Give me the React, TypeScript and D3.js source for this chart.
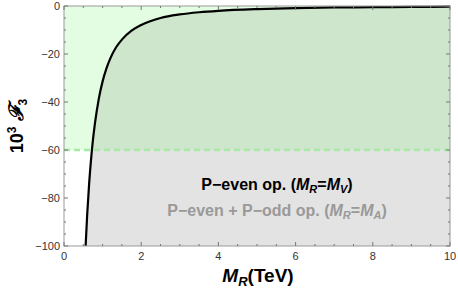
import * as d3 from 'd3';

// values
const massTeV = [0.56, 0.6, 0.65, 0.7, 0.75, 0.8, 0.9, 1.0, 1.1, 1.2, 1.35, 1.5, 1.75, 2.0, 2.5, 3.0, 3.5, 4.0, 5.0, 6.0, 7.0, 8.0, 9.0, 10.0];
const f3Values = [-100, -87.2, -74.3, -64.1, -55.8, -49.1, -38.8, -31.4, -26.0, -21.8, -17.2, -14.0, -10.3, -7.9, -5.0, -3.5, -2.6, -2.0, -1.3, -0.9, -0.6, -0.5, -0.4, -0.3];
const xTicks = [0, 2, 4, 6, 8, 10];
const yTicks = [0, -20, -40, -60, -80, -100];
const bound = -60;

const W = 458;
const H = 294;
const margin = { top: 6, right: 8, bottom: 48, left: 64 };

export default function App() {
  const x = d3.scaleLinear().domain([0, 10]).range([margin.left, W - margin.right]);
  const y = d3.scaleLinear().domain([-100, 0]).range([H - margin.bottom, margin.top]);
  const data = massTeV.map((m, i) => ({ m, v: f3Values[i] }));

  const line = d3.line<{ m: number; v: number }>()
    .x((d) => x(d.m))
    .y((d) => y(d.v))
    .curve(d3.curveMonotoneX);
  const area = d3.area<{ m: number; v: number }>()
    .x((d) => x(d.m))
    .y0(y(-100))
    .y1((d) => y(d.v))
    .curve(d3.curveMonotoneX);

  const [x0, x1] = x.range();
  const [yb, yt] = y.range();
  const xMinor = d3.range(0, 10.01, 0.5).filter((t) => t % 2 !== 0);
  const yMinor = d3.range(-100, 0.01, 5).filter((t) => t % 20 !== 0);
  const tickColor = '#777';

  return (
    <svg width={W} height={H} style={{ position: 'absolute', left: 0, top: 0, fontFamily: 'Liberation Sans, Arial, sans-serif' }}>
      <defs>
        <clipPath id="above">
          <rect x={x0} y={yt} width={x1 - x0} height={y(bound) - yt} />
        </clipPath>
        <clipPath id="below">
          <rect x={x0} y={y(bound)} width={x1 - x0} height={yb - y(bound)} />
        </clipPath>
      </defs>

      <rect x={x0} y={yt} width={x1 - x0} height={y(bound) - yt} fill="#e2fde2" />
      <path d={area(data)!} fill="#cde6cc" clipPath="url(#above)" />
      <path d={area(data)!} fill="#e3e3e3" clipPath="url(#below)" />

      <line x1={x0} x2={x1} y1={y(bound)} y2={y(bound)} stroke="#a6eaa6" strokeWidth={2.5} strokeDasharray="6,4" />

      <path d={line(data)!} fill="none" stroke="#000" strokeWidth={2.2} />

      {/* frame */}
      <rect x={x0} y={yt} width={x1 - x0} height={yb - yt} fill="none" stroke="#999" strokeWidth={1} />

      {xTicks.map((t) => (
        <g key={'xt' + t}>
          <line x1={x(t)} x2={x(t)} y1={yb} y2={yb - 4} stroke={tickColor} />
          <line x1={x(t)} x2={x(t)} y1={yt} y2={yt + 4} stroke={tickColor} />
          <text x={x(t)} y={yb + 14} textAnchor="middle" fontSize={11} fill="#333">{t}</text>
        </g>
      ))}
      {xMinor.map((t) => (
        <g key={'xm' + t}>
          <line x1={x(t)} x2={x(t)} y1={yb} y2={yb - 2} stroke={tickColor} />
          <line x1={x(t)} x2={x(t)} y1={yt} y2={yt + 2} stroke={tickColor} />
        </g>
      ))}
      {yTicks.map((t) => (
        <g key={'yt' + t}>
          <line x1={x0} x2={x0 + 4} y1={y(t)} y2={y(t)} stroke={tickColor} />
          <line x1={x1} x2={x1 - 4} y1={y(t)} y2={y(t)} stroke={tickColor} />
          <text x={x0 - 4} y={y(t) + 4} textAnchor="end" fontSize={11} fill="#333">
            {t < 0 ? '\u2212' + Math.abs(t) : t}
          </text>
        </g>
      ))}
      {yMinor.map((t) => (
        <g key={'ym' + t}>
          <line x1={x0} x2={x0 + 2} y1={y(t)} y2={y(t)} stroke={tickColor} />
          <line x1={x1} x2={x1 - 2} y1={y(t)} y2={y(t)} stroke={tickColor} />
        </g>
      ))}

      <text x={258} y={282} textAnchor="middle" fontSize={19} fontWeight="bold">
        <tspan fontStyle="italic">M</tspan>
        <tspan fontStyle="italic" fontSize={13} dy={4}>R</tspan>
        <tspan dy={-4}>(TeV)</tspan>
      </text>

      <text transform={`translate(23,126) rotate(-90)`} textAnchor="middle" fontSize={18} fontWeight="bold">
        <tspan>10</tspan>
        <tspan fontSize={12} dy={-7}>3</tspan>
        <tspan dy={7}> </tspan>
        <tspan fontStyle="italic" fontFamily="DejaVu Serif, serif" fontSize={20}>{'\u2131'}</tspan>
        <tspan fontSize={12} dy={4}>3</tspan>
      </text>

      <text x={277} y={190} textAnchor="middle" fontSize={16} fontWeight="bold" fill="#000">
        <tspan>P{'\u2212'}even op. (</tspan>
        <tspan fontStyle="italic">M</tspan>
        <tspan fontStyle="italic" fontSize={11} dy={3}>R</tspan>
        <tspan dy={-3}>=</tspan>
        <tspan fontStyle="italic">M</tspan>
        <tspan fontStyle="italic" fontSize={11} dy={3}>V</tspan>
        <tspan dy={-3}>)</tspan>
      </text>
      <text x={277} y={216} textAnchor="middle" fontSize={16} fontWeight="bold" fill="#999">
        <tspan>P{'\u2212'}even + P{'\u2212'}odd op. (</tspan>
        <tspan fontStyle="italic">M</tspan>
        <tspan fontStyle="italic" fontSize={11} dy={3}>R</tspan>
        <tspan dy={-3}>=</tspan>
        <tspan fontStyle="italic">M</tspan>
        <tspan fontStyle="italic" fontSize={11} dy={3}>A</tspan>
        <tspan dy={-3}>)</tspan>
      </text>
    </svg>
  );
}
